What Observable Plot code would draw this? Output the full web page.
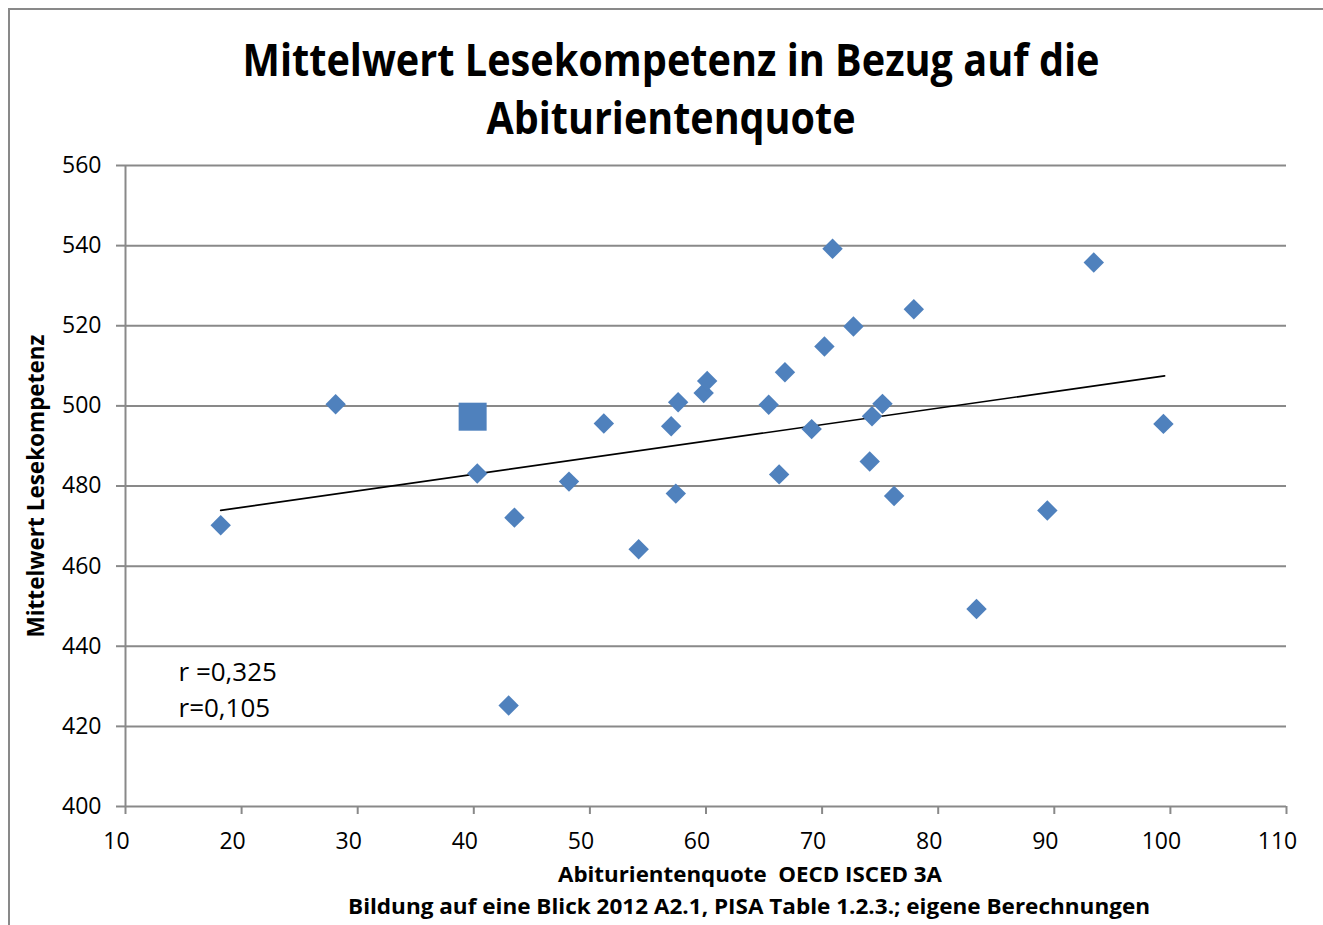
<!DOCTYPE html>
<html><head><meta charset="utf-8">
<script src="https://cdn.jsdelivr.net/npm/d3@7"></script>
<script src="https://cdn.jsdelivr.net/npm/@observablehq/plot@0.6"></script>
<style>
body{margin:0;background:#fff;font-family:"Open Sans",sans-serif;}
#wrap{position:relative;width:1323px;height:925px;overflow:hidden;background:#fff;}
.t{position:absolute;white-space:pre;line-height:normal;transform-origin:center;color:#000;}
#frame{position:absolute;left:8px;top:8px;width:1340px;height:940px;border-left:2px solid #898989;border-top:2px solid #898989;pointer-events:none;}
#plot{position:absolute;left:0;top:135px;}
</style></head><body>
<div id="wrap"><div id="plot"></div><div id="frame"></div></div>
<script>
// Diamonds: Abiturientenquote (x) vs. Mittelwert Lesekompetenz (y)
const quote = [18.2, 28.1, 40.3, 43.0, 43.5, 48.2, 51.2, 54.2, 57.0, 57.4, 57.6, 59.8, 60.1, 65.4, 66.3, 66.8, 69.1, 70.2, 70.9, 72.7, 74.1, 74.3, 75.2, 76.2, 77.9, 83.3, 89.4, 93.4, 99.4];
const lesen = [470.2, 500.4, 483.1, 425.2, 472.1, 481.1, 495.6, 464.2, 494.9, 478.1, 500.9, 503.2, 506.2, 500.3, 482.9, 508.4, 494.2, 514.8, 539.2, 519.8, 486.1, 497.4, 500.5, 477.5, 524.1, 449.3, 473.9, 535.8, 495.5];
// Highlighted point (square)
const highlightQuote = [39.9];
const highlightLesen = [497.3];
// Linear trend line endpoints
const trendQuote = [18.2, 99.5];
const trendLesen = [473.9, 507.5];
// Axis ticks
const xTicks = [10, 20, 30, 40, 50, 60, 70, 80, 90, 100, 110];
const yTicks = [400, 420, 440, 460, 480, 500, 520, 540, 560];
// Texts
const titleLines = ["Mittelwert Lesekompetenz in Bezug auf die", "Abiturientenquote"];
const xLabel = "Abiturientenquote  OECD ISCED 3A";
const yLabel = "Mittelwert Lesekompetenz";
const caption = "Bildung auf eine Blick 2012 A2.1, PISA Table 1.2.3.; eigene Berechnungen";
const annotation = ["r =0,325", "r=0,105"];

const points = quote.map((q, i) => ({q, l: lesen[i]}));
const highlight = highlightQuote.map((q, i) => ({q, l: highlightLesen[i]}));
const trend = trendQuote.map((q, i) => ({q, l: trendLesen[i]}));

const gray = "#898989";
const blue = "#4F81BD";

const chart = Plot.plot({
  width: 1323,
  height: 721,
  marginTop: 30,
  marginBottom: 50,
  marginLeft: 125,
  marginRight: 37,
  x: {domain: [10, 110]},
  y: {domain: [400, 560]},
  style: {fontFamily: "'Open Sans', sans-serif", fontSize: "23px", background: "transparent", color: "#000", overflow: "visible"},
  marks: [
    Plot.ruleY(yTicks, {stroke: gray, strokeWidth: 2}),
    Plot.ruleX([10], {stroke: gray, strokeWidth: 2}),
    Plot.axisY({ticks: yTicks, tickSize: 9, tickPadding: 15, stroke: gray, strokeWidth: 2, label: null, fontSize: 23, fill: "#000"}),
    Plot.axisX({ticks: xTicks, tickSize: 8, stroke: gray, strokeWidth: 2, label: null, tickFormat: () => ""}),
    Plot.text(xTicks, {x: d => d, frameAnchor: "bottom", lineAnchor: "top", dy: 26, dx: -9, fontSize: 23, fill: "#000"}),
    Plot.text([yLabel], {frameAnchor: "left", textAnchor: "middle", rotate: -90, dx: -89, fontWeight: "bold", fontSize: 22.5, fill: "#000"}),
    Plot.text([annotation.join("\n")], {frameAnchor: "left", textAnchor: "start", dx: 53, dy: 201.5, lineHeight: 1.4, fontSize: 26, fill: "#000"}),
    Plot.line(trend, {x: "q", y: "l", stroke: "#000", strokeWidth: 1.7}),
    Plot.dot(points, {x: "q", y: "l", symbol: "diamond2", r: 9.2, fill: blue, stroke: "none"}),
    Plot.dot(highlight, {x: "q", y: "l", symbol: "square", r: 15.8, fill: blue, stroke: "none"})
  ]
});
document.getElementById("plot").appendChild(chart);

const wrap = document.getElementById("wrap");
function place(text, cx, baseline, size, weight, targetW) {
  const d = document.createElement("div");
  d.className = "t";
  d.textContent = text;
  d.style.fontSize = size + "px";
  d.style.fontWeight = weight;
  wrap.appendChild(d);
  const w = d.getBoundingClientRect().width;
  const s = targetW / w;
  d.style.left = cx + "px";
  d.style.top = (baseline - 1.069 * size) + "px";
  d.style.transform = `translateX(-50%) scaleX(${s})`;
}
place(titleLines[0], 671, 76, 44, 700, 857);
place(titleLines[1], 671, 134, 44, 700, 369);
place(xLabel, 750, 882, 22, 700, 384);
place(caption, 749, 914, 22, 700, 802);
</script>
</body></html>
